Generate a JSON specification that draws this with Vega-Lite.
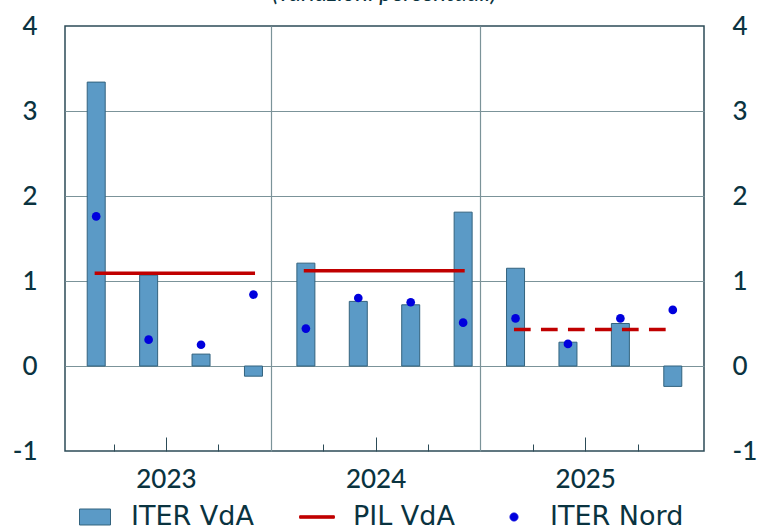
{
  "$schema": "https://vega.github.io/schema/vega-lite/v6.json",
  "width": 639,
  "height": 425,
  "autosize": {"type": "none"},
  "padding": {"left": 65, "top": 26, "right": 59, "bottom": 80},
  "background": "white",
  "title": {
    "text": "(variazioni percentuali)",
    "font": "Lato",
    "fontSize": 24,
    "fontStyle": "italic",
    "fontWeight": "normal",
    "color": "#0a3340",
    "frame": "group",
    "anchor": "middle",
    "baseline": "alphabetic",
    "offset": -12
  },
  "config": {
    "view": {"stroke": "#2c4b57", "strokeWidth": 1.5},
    "axis": {"labelFont": "Lato", "labelColor": "#0a3340", "labelFontSize": 26, "labelFontWeight": 500, "domain": false},
    "legend": {
      "title": null, "orient": "none", "direction": "horizontal",
      "legendX": 14, "legendY": 475, "padding": 0,
      "labelFont": "DejaVu Sans", "labelFontSize": 27, "labelColor": "#0a3340",
      "labelOffset": 20, "columnPadding": 43, "symbolSize": 961, "symbolOpacity": 1,
      "symbolStrokeWidth": 1, "labelLimit": 300
    }
  },
  "datasets": {
    "trimestri": [
      {"t": 0.5, "periodo": "2023 T1", "iter_vda": 3.34, "iter_nord": 1.76},
      {"t": 1.5, "periodo": "2023 T2", "iter_vda": 1.07, "iter_nord": 0.31},
      {"t": 2.5, "periodo": "2023 T3", "iter_vda": 0.14, "iter_nord": 0.25},
      {"t": 3.5, "periodo": "2023 T4", "iter_vda": -0.12, "iter_nord": 0.84},
      {"t": 4.5, "periodo": "2024 T1", "iter_vda": 1.21, "iter_nord": 0.44},
      {"t": 5.5, "periodo": "2024 T2", "iter_vda": 0.76, "iter_nord": 0.8},
      {"t": 6.5, "periodo": "2024 T3", "iter_vda": 0.72, "iter_nord": 0.75},
      {"t": 7.5, "periodo": "2024 T4", "iter_vda": 1.81, "iter_nord": 0.51},
      {"t": 8.5, "periodo": "2025 T1", "iter_vda": 1.15, "iter_nord": 0.56},
      {"t": 9.5, "periodo": "2025 T2", "iter_vda": 0.28, "iter_nord": 0.26},
      {"t": 10.5, "periodo": "2025 T3", "iter_vda": 0.5, "iter_nord": 0.56},
      {"t": 11.5, "periodo": "2025 T4", "iter_vda": -0.24, "iter_nord": 0.66}
    ],
    "pil": [
      {"anno": "2023", "da": 0.47, "a": 3.53, "pil_vda": 1.09, "tipo": "consuntivo"},
      {"anno": "2024", "da": 4.46, "a": 7.53, "pil_vda": 1.12, "tipo": "consuntivo"},
      {"anno": "2025", "da": 8.47, "a": 11.53, "pil_vda": 0.43, "tipo": "previsione"}
    ],
    "serie": [
      {"serie": "ITER VdA"},
      {"serie": "PIL VdA"},
      {"serie": "ITER Nord"}
    ]
  },
  "resolve": {"axis": {"x": "independent", "y": "independent"}},
  "layer": [
    {
      "data": {"name": "trimestri"},
      "mark": {"type": "bar", "width": 18, "fill": "#5b9ac6", "stroke": "#33637e", "strokeWidth": 1},
      "encoding": {
        "x": {
          "field": "t", "type": "quantitative",
          "scale": {"domain": [0, 12], "nice": false, "zero": false},
          "axis": {
            "orient": "bottom", "title": null, "values": [1.83, 5.83, 9.83],
            "labelExpr": "datum.value < 4 ? '2023' : datum.value < 8 ? '2024' : '2025'",
            "ticks": true, "tickSize": -14, "tickColor": "#2c4b57", "tickWidth": 1,
            "labelPadding": 29, "labelBaseline": "top", "grid": false
          }
        },
        "y": {
          "field": "iter_vda", "type": "quantitative",
          "scale": {"domain": [-1, 4], "nice": false},
          "axis": {
            "orient": "left", "title": null, "values": [-1, 0, 1, 2, 3, 4],
            "labelExpr": "datum.value < 0 ? '-' + abs(datum.value) : '' + datum.value",
            "ticks": false, "grid": false, "labelPadding": 28, "labelBaseline": "middle"
          }
        }
      }
    },
    {
      "data": {"name": "pil"},
      "mark": {"type": "rule", "strokeWidth": 3.5, "color": "#c00000"},
      "encoding": {
        "x": {
          "field": "da", "type": "quantitative",
          "axis": {
            "orient": "bottom", "title": null, "values": [0.83, 2.83, 4.83, 6.83, 8.83, 10.83],
            "labels": false, "ticks": true, "tickSize": -7, "tickColor": "#2c4b57", "tickWidth": 1, "grid": false
          }
        },
        "x2": {"field": "a"},
        "y": {
          "field": "pil_vda", "type": "quantitative",
          "axis": {
            "orient": "right", "title": null, "values": [-1, 0, 1, 2, 3, 4],
            "labelExpr": "datum.value < 0 ? '-' + abs(datum.value) : '' + datum.value",
            "ticks": false, "grid": false, "labelPadding": 28, "labelBaseline": "middle"
          }
        },
        "strokeDash": {
          "field": "tipo", "type": "nominal",
          "scale": {"domain": ["consuntivo", "previsione"], "range": [[1, 0], [16.7, 10.3]]},
          "legend": null
        }
      }
    },
    {
      "data": {"name": "trimestri"},
      "mark": {"type": "point", "filled": true, "size": 75, "opacity": 1, "color": "#0000dd"},
      "encoding": {
        "x": {
          "field": "t", "type": "quantitative",
          "axis": {
            "orient": "bottom", "title": null, "values": [3.83, 7.83],
            "labels": false, "ticks": false, "grid": true, "gridColor": "#7b9399", "gridWidth": 1.2, "gridOpacity": 1
          }
        },
        "y": {
          "field": "iter_nord", "type": "quantitative",
          "axis": {
            "orient": "left", "title": null, "values": [0, 1, 2, 3],
            "labels": false, "ticks": false, "grid": true, "gridColor": "#7b9399", "gridWidth": 1.2, "gridOpacity": 1
          }
        }
      }
    },
    {
      "data": {"name": "serie"},
      "transform": [{"filter": "false"}],
      "mark": {"type": "point", "filled": true, "opacity": 1, "strokeWidth": 1},
      "encoding": {
        "color": {
          "field": "serie", "type": "nominal",
          "scale": {"domain": ["ITER VdA", "PIL VdA", "ITER Nord"], "range": ["#5b9ac6", "#c00000", "#0000dd"]}
        },
        "stroke": {
          "field": "serie", "type": "nominal",
          "scale": {"domain": ["ITER VdA", "PIL VdA", "ITER Nord"], "range": ["#33637e", "#c00000", "#0000dd"]}
        },
        "shape": {
          "field": "serie", "type": "nominal",
          "scale": {
            "domain": ["ITER VdA", "PIL VdA", "ITER Nord"],
            "range": [
              "M-1,-0.516H1V0.516H-1Z",
              "M-1.12,-0.08H1.12V0.08H-1.12Z",
              "M0.26,0A0.26,0.26,0,1,1,-0.26,0A0.26,0.26,0,1,1,0.26,0Z"
            ]
          }
        }
      }
    }
  ]
}
